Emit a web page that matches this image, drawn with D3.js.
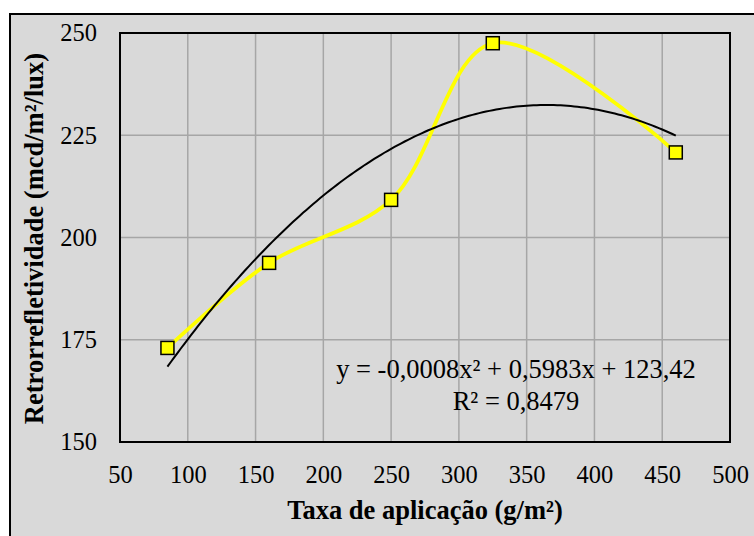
<!DOCTYPE html>
<html>
<head>
<meta charset="utf-8">
<script src="https://cdn.jsdelivr.net/npm/d3@7"></script>
<style>html, body { margin: 0; background: #fff; }</style>
</head>
<body>
<svg id="chart" width="754" height="536"></svg>
<script>
// Application rate (g/m²) and measured retroreflectivity (mcd/m²/lux)
const taxa = [85, 160, 250, 325, 460];
const retro = [173, 193.8, 209.2, 247.5, 220.8];

const xTicks = [50, 100, 150, 200, 250, 300, 350, 400, 450, 500];
const yTicks = [150, 175, 200, 225, 250];

const equationLines = ["y = -0,0008x\u00B2 + 0,5983x + 123,42", "R\u00B2 = 0,8479"];

const plot = { left: 120, top: 33, right: 730, bottom: 442 };

const svg = d3.select("#chart");

function label(sel, size, weight) {
  return sel.style("font-family", "'Liberation Serif'")
    .style("font-size", size + "px")
    .style("font-weight", weight || "normal")
    .attr("fill", "#000");
}

// Chart area background and frame
svg.append("rect")
  .attr("x", 10).attr("y", 14)
  .attr("width", 760).attr("height", 540)
  .attr("fill", "#d9d9d9")
  .attr("stroke", "#000").attr("stroke-width", 2);

const x = d3.scaleLinear().domain([50, 500]).range([plot.left, plot.right]);
const y = d3.scaleLinear().domain([150, 250]).range([plot.bottom, plot.top]);

// Gridlines
const grid = svg.append("g").attr("stroke", "#a6a6a6").attr("stroke-width", 1.5);
grid.selectAll("line.v").data(xTicks.slice(1, -1)).join("line")
  .attr("class", "v")
  .attr("x1", d => x(d)).attr("x2", d => x(d))
  .attr("y1", plot.top).attr("y2", plot.bottom);
grid.selectAll("line.h").data(yTicks.slice(1, -1)).join("line")
  .attr("class", "h")
  .attr("x1", plot.left).attr("x2", plot.right)
  .attr("y1", d => y(d)).attr("y2", d => y(d));

// Plot border
svg.append("rect")
  .attr("x", plot.left).attr("y", plot.top)
  .attr("width", plot.right - plot.left).attr("height", plot.bottom - plot.top)
  .attr("fill", "none").attr("stroke", "#000").attr("stroke-width", 2);

// Axes (labels only)
const xAxis = svg.append("g")
  .attr("transform", `translate(0,${plot.bottom})`)
  .call(d3.axisBottom(x).tickValues(xTicks).tickSize(0).tickPadding(24).tickFormat(d3.format("d")));
xAxis.select(".domain").remove();
label(xAxis.selectAll("text"), 24.5);

const yAxis = svg.append("g")
  .attr("transform", `translate(${plot.left},0)`)
  .call(d3.axisLeft(y).tickValues(yTicks).tickSize(0).tickPadding(23).tickFormat(d3.format("d")));
yAxis.select(".domain").remove();
label(yAxis.selectAll("text"), 24.5);

// Axis titles
label(svg.append("text")
  .attr("x", (plot.left + plot.right) / 2).attr("y", 519)
  .attr("text-anchor", "middle")
  .text("Taxa de aplicação (g/m²)"), 26.5, "bold");

label(svg.append("text")
  .attr("transform", `translate(43,${(plot.top + plot.bottom) / 2 + 1}) rotate(-90)`)
  .attr("text-anchor", "middle")
  .text("Retrorrefletividade (mcd/m²/lux)"), 26.5, "bold");

// Quadratic least-squares fit of the series
function quadFit(xs, ys) {
  const s = [0, 0, 0, 0, 0], t = [0, 0, 0];
  xs.forEach((xv, i) => {
    for (let k = 0; k <= 4; k++) s[k] += Math.pow(xv, k);
    for (let k = 0; k <= 2; k++) t[k] += ys[i] * Math.pow(xv, k);
  });
  const A = [[s[0], s[1], s[2], t[0]], [s[1], s[2], s[3], t[1]], [s[2], s[3], s[4], t[2]]];
  for (let i = 0; i < 3; i++) {
    for (let r = 0; r < 3; r++) {
      if (r === i) continue;
      const f = A[r][i] / A[i][i];
      for (let c = i; c < 4; c++) A[r][c] -= f * A[i][c];
    }
  }
  return [A[0][3] / A[0][0], A[1][3] / A[1][1], A[2][3] / A[2][2]];
}

const coef = quadFit(taxa, retro);
const trendX = d3.range(taxa[0], taxa[taxa.length - 1] + 0.01, 2.5);
const trend = trendX.map(v => [v, coef[0] + coef[1] * v + coef[2] * v * v]);

const series = taxa.map((v, i) => [v, retro[i]]);

// Smoothed series line
svg.append("path")
  .datum(series)
  .attr("fill", "none")
  .attr("stroke", "#ffff00").attr("stroke-width", 3.75)
  .attr("d", d3.line().x(d => x(d[0])).y(d => y(d[1])).curve(d3.curveCatmullRom.alpha(0.5)));

// Polynomial trendline
svg.append("path")
  .datum(trend)
  .attr("fill", "none")
  .attr("stroke", "#000").attr("stroke-width", 2)
  .attr("d", d3.line().x(d => x(d[0])).y(d => y(d[1])));

// Square markers
const ms = 13;
svg.selectAll("rect.marker").data(series).join("rect")
  .attr("class", "marker")
  .attr("x", d => x(d[0]) - ms / 2).attr("y", d => y(d[1]) - ms / 2)
  .attr("width", ms).attr("height", ms)
  .attr("fill", "#ffff00").attr("stroke", "#000").attr("stroke-width", 1.5);

// Trendline equation
const eq = label(svg.append("text").attr("text-anchor", "middle"), 26.5);
equationLines.forEach((line, i) => {
  eq.append("tspan").attr("x", 516).attr("y", 378 + i * 32).text(line);
});
</script>
</body>
</html>
